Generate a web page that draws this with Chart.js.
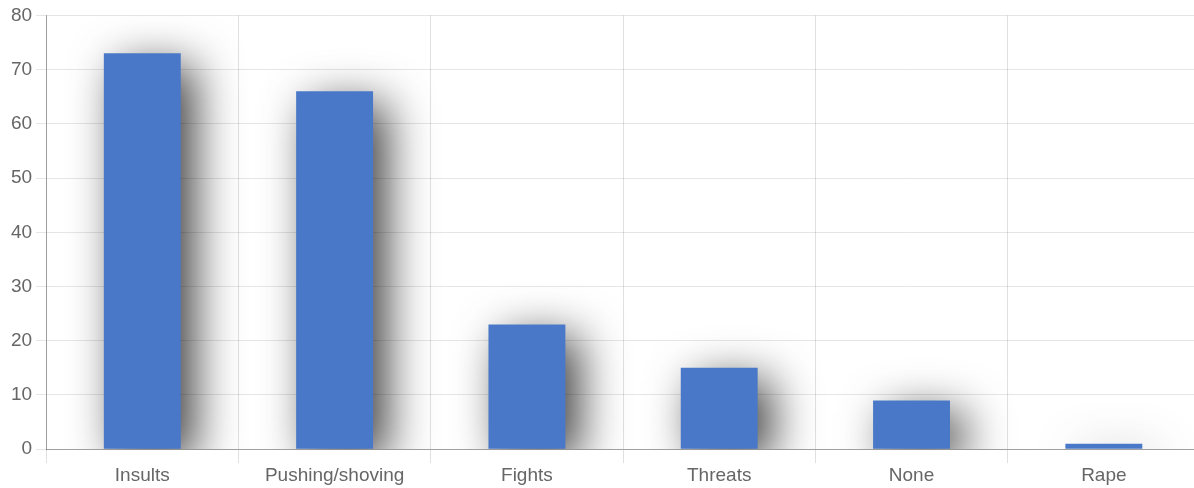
<!DOCTYPE html>
<html>
<head>
<meta charset="utf-8">
<script src="https://cdn.jsdelivr.net/npm/chart.js"></script>
<style>
  html, body { margin: 0; padding: 0; background: #fff; overflow: hidden; }
  #wrap { width: 1200px; height: 488px; }
</style>
</head>
<body>
<div id="wrap"><canvas id="chart"></canvas></div>
<script>
const categories = ["Insults", "Pushing/shoving", "Fights", "Threats", "None", "Rape"];
const counts = [73, 66, 23, 15, 9, 1];
const yTicks = [0, 10, 20, 30, 40, 50, 60, 70, 80];

// soft drop shadow behind the bars
const barShadow = {
    id: "barShadow",
    beforeDatasetsDraw(chart) {
        const ctx = chart.ctx;
        ctx.save();
        ctx.shadowColor = "rgba(0, 0, 0, 0.75)";
        ctx.shadowBlur = 46;
        ctx.shadowOffsetX = 14;
        ctx.shadowOffsetY = 12;
    },
    afterDatasetsDraw(chart) {
        chart.ctx.restore();
    }
};

Chart.defaults.font.family = "'Liberation Sans', Arial, sans-serif";
Chart.defaults.font.size = 19;
Chart.defaults.color = "#666";

new Chart(document.getElementById("chart"), {
    type: "bar",
    data: {
        labels: categories,
        datasets: [{
            data: counts,
            backgroundColor: "#4a78c8",
            borderWidth: 0,
            barPercentage: 0.5,
            categoryPercentage: 0.8
        }]
    },
    options: {
        responsive: true,
        maintainAspectRatio: false,
        animation: false,
        layout: { padding: { left: 7, top: 9, right: 0, bottom: 0 } },
        plugins: {
            legend: { display: false },
            tooltip: { enabled: false }
        },
        scales: {
            x: {
                grid: { color: "rgba(0,0,0,0.12)", tickLength: 14 },
                border: { color: "rgba(0,0,0,0.3)" },
                ticks: { padding: 1 }
            },
            y: {
                min: 0,
                max: 80,
                afterBuildTicks(scale) {
                    scale.ticks = yTicks.map(v => ({ value: v }));
                },
                grid: { color: "rgba(0,0,0,0.1)", tickLength: 10 },
                border: { color: "rgba(0,0,0,0.3)" },
                ticks: { padding: 4 }
            }
        }
    },
    plugins: [barShadow]
});
</script>
</body>
</html>
